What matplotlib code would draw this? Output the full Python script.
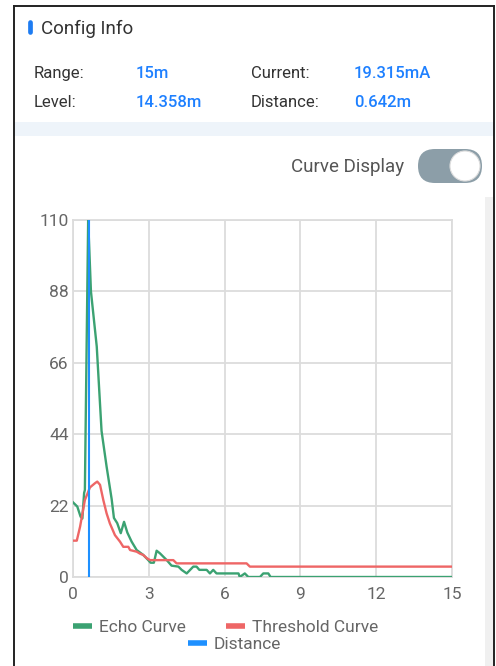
import matplotlib
matplotlib.use("Agg")
import matplotlib.pyplot as plt
from matplotlib.patches import Rectangle, FancyBboxPatch, Circle
from matplotlib.lines import Line2D

plt.rcParams['font.family'] = ['Roboto', 'DejaVu Sans']

# ---------------- data ----------------
echo_x = [0.0, 0.17, 0.3, 0.37, 0.44, 0.47, 0.6, 0.71, 0.94, 1.13, 1.33, 1.53, 1.62,
          1.75, 1.89, 2.02, 2.15, 2.32, 2.52, 2.78, 2.98, 3.07, 3.2, 3.31, 3.44, 3.71,
          3.9, 4.17, 4.3, 4.5, 4.76, 4.89, 5.0, 5.29, 5.42, 5.55, 5.68, 6.55, 6.6, 6.8,
          6.94, 7.4, 7.53, 7.73, 7.82, 15.0]
echo_y = [23, 21.7, 18.6, 18, 25.9, 26.8, 110, 88, 71, 45, 34, 24, 18.2,
          16.6, 13.5, 17, 13.7, 10.9, 8.3, 6.8, 5.2, 4.4, 4.4, 8.1, 7.3, 5.2,
          3.5, 3.2, 2.2, 1.1, 3.2, 3.2, 2.2, 2.2, 1.1, 2.2, 1.1, 1.1, 0, 1.1,
          0, 0, 1.1, 1.1, 0, 0]

threshold_x = [0.0, 0.15, 0.28, 0.47, 0.67, 0.87, 0.96, 1.07, 1.2, 1.33, 1.46, 1.66,
               1.86, 1.99, 2.19, 2.26, 2.52, 2.65, 2.78, 2.92, 3.05, 3.97, 4.1, 6.87,
               7.0, 15.0]
threshold_y = [11.2, 11.2, 15.5, 23.7, 27.6, 28.9, 29.4, 28.4, 23.7, 19.6, 16.5, 12.9,
               10.9, 9.3, 9.3, 8.3, 7.8, 7.2, 6.8, 5.8, 5.2, 5.2, 4.2, 4.2,
               3.2, 3.2]

distance_x = [0.642, 0.642]
distance_y = [0, 110]

x_ticks = [0, 3, 6, 9, 12, 15]
y_ticks = [0, 22, 44, 66, 88, 110]

info_labels = ["Range:", "Level:", "Current:", "Distance:"]
info_values = ["15m", "14.358m", "19.315mA", "0.642m"]

series_names = ["Echo Curve", "Threshold Curve", "Distance"]
colors = ["#3ba272", "#ee6666", "#1e90ff"]

# ---------------- figure ----------------
W, H = 496, 666
fig = plt.figure(figsize=(W / 100, H / 100), dpi=100)
fig.patch.set_facecolor("white")


def fx(px):
    return px / W


def fy(py):
    return 1 - py / H


# card border
fig.add_artist(Line2D([fx(14), fx(14)], [fy(6), fy(666)], color="#222222", lw=1.4))
fig.add_artist(Line2D([fx(14), fx(493.5)], [fy(6), fy(6)], color="#222222", lw=1.4))
fig.add_artist(Line2D([fx(493.5), fx(493.5)], [fy(6), fy(666)], color="#222222", lw=1.4))

# title pill
fig.add_artist(Line2D([fx(30.3), fx(30.3)], [fy(22), fy(32)], color="#1e7cf2", lw=3.4,
                      solid_capstyle="round"))
fig.text(fx(41), fy(28.5), "Config Info", fontsize=13.5, color="#333333", va="center", ha="left")

# info grid
lab_x = [34, 34, 251, 251]
val_x = [136, 136, 354, 354]
rows_y = [73.5, 102.5, 73.5, 102.5]
for lab, val, lx, vx, yy in zip(info_labels, info_values, lab_x, val_x, rows_y):
    fig.text(fx(lx), fy(yy), lab, fontsize=12, color="#333333", va="center", ha="left")
    fig.text(fx(vx), fy(yy), val, fontsize=12, color="#1e80ff", va="center", ha="left",
             fontweight="medium")

# light separator band
fig.add_artist(Rectangle((fx(15), fy(136)), fx(478), fy(122) - fy(136),
                         transform=fig.transFigure, color="#eef4fa", lw=0))

# curve display toggle
fig.text(fx(404), fy(167.5), "Curve Display", fontsize=13.5, color="#555555", va="center", ha="right")
ax_t = fig.add_axes([fx(418), fy(183), fx(64), fy(149) - fy(183)])
ax_t.set_xlim(418, 482)
ax_t.set_ylim(183, 149)
ax_t.set_aspect("equal")
ax_t.axis("off")
ax_t.add_patch(FancyBboxPatch((418, 149), 64, 34, boxstyle="round,pad=0,rounding_size=17",
                              color="#8c9ea8", lw=0))
ax_t.add_patch(Circle((465, 166), 15, facecolor="white", edgecolor="#dddddd", lw=0.8))

# scrollbar strip
fig.add_artist(Rectangle((fx(485), fy(666)), fx(8), fy(197) - fy(666),
                         transform=fig.transFigure, color="#f0f0f0", lw=0))

# ---------------- chart ----------------
ax = fig.add_axes([fx(73), fy(577), fx(452 - 73), fy(220) - fy(577)])
ax.plot(echo_x, echo_y, color=colors[0], lw=1.7, solid_joinstyle="round", zorder=3)
ax.plot(threshold_x, threshold_y, color=colors[1], lw=1.7, solid_joinstyle="round", zorder=3)
ax.plot(distance_x, distance_y, color=colors[2], lw=1.5, zorder=4)

ax.set_xlim(0, 15)
ax.set_ylim(0, 110)
ax.set_xticks(x_ticks)
ax.set_yticks(y_ticks)
ax.set_xticklabels([str(t) for t in x_ticks])
ax.set_yticklabels([str(t) for t in y_ticks])
ax.grid(True, color="#dcdcdc", lw=1.3)
ax.set_axisbelow(True)
for s in ax.spines.values():
    s.set_color("#dcdcdc")
    s.set_linewidth(1.3)
ax.tick_params(length=0, labelsize=12.5, labelcolor="#666666", pad=3)
ax.tick_params(axis="x", pad=7.5)

# legend
leg_items = [(73, 626, 0), (226, 626, 1), (188, 643, 2)]
for lx, ly, i in leg_items:
    fig.add_artist(Line2D([fx(lx), fx(lx + 19)], [fy(ly), fy(ly)], color=colors[i], lw=4,
                          solid_capstyle="butt"))
    fig.text(fx(lx + 26), fy(ly + 1.5), series_names[i], fontsize=12.5, color="#666666",
             va="center", ha="left")

fig.savefig("out.png", dpi=100, facecolor="white")
